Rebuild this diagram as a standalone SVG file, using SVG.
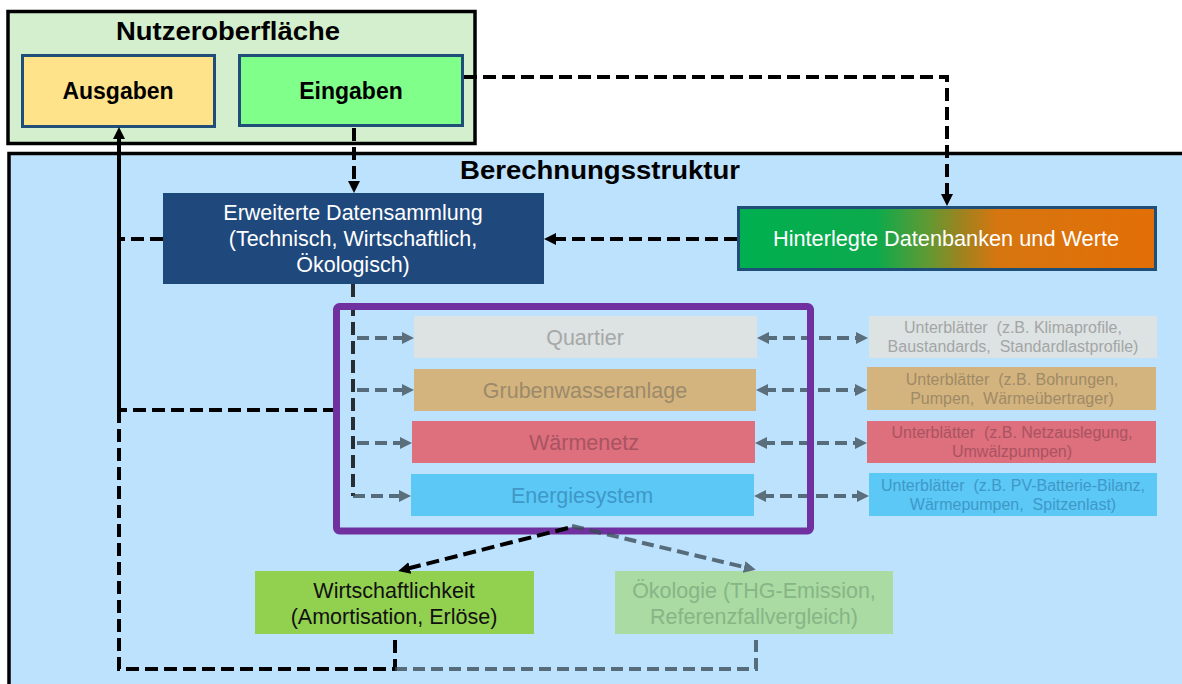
<svg xmlns="http://www.w3.org/2000/svg" width="1182" height="684" viewBox="0 0 1182 684">
  <defs>
    <linearGradient id="dbGrad" x1="0" y1="0" x2="1" y2="0">
      <stop offset="0" stop-color="#00b050"/>
      <stop offset="0.33" stop-color="#0caa4c"/>
      <stop offset="0.45" stop-color="#5e9a34"/>
      <stop offset="0.53" stop-color="#9a8420"/>
      <stop offset="0.62" stop-color="#d67610"/>
      <stop offset="1" stop-color="#e36e06"/>
    </linearGradient>
    <marker id="arrBlack" viewBox="0 0 12 12" refX="4" refY="6" markerWidth="12" markerHeight="12" markerUnits="userSpaceOnUse" orient="auto-start-reverse">
      <path d="M0,0 L12,6 L0,12 z" fill="#000"/>
    </marker>
    <marker id="arrGrey" viewBox="0 0 12 12" refX="4" refY="6" markerWidth="12" markerHeight="12" markerUnits="userSpaceOnUse" orient="auto-start-reverse">
      <path d="M0,0 L12,6 L0,12 z" fill="#5b6e7c"/>
    </marker>
  </defs>
  <style>
    text { font-family: "Liberation Sans", Arial, sans-serif; text-anchor: middle; white-space: pre; }
    .title { font-size: 26px; font-weight: bold; fill: #000; }
    .btn { font-size: 23px; font-weight: bold; fill: #000; }
    .lbl { font-size: 21.5px; }
    .sub { font-size: 16px; }
    .frame { stroke: #000; stroke-width: 3.5; }
    .blue-border { stroke: #1f4e79; stroke-width: 3; }
    .dk { fill: none; stroke: #000; stroke-width: 4; stroke-dasharray: 13 6; }
    .gr { fill: none; stroke: #3a4a55; stroke-opacity: 0.78; stroke-width: 4; stroke-dasharray: 12 6; }
    .solid { fill: none; stroke: #000; stroke-width: 4; }
  </style>

  <!-- white page -->
  <rect x="0" y="0" width="1182" height="684" fill="#fff"/>

  <!-- user interface frame -->
  <g id="nutzeroberflaeche">
    <rect x="8" y="11.5" width="467" height="132" fill="#d4efce" class="frame"/>
    <text x="228" y="40" class="title" textLength="224" lengthAdjust="spacingAndGlyphs">Nutzeroberfläche</text>
  </g>
  <g id="ausgaben">
    <rect x="22.5" y="55.5" width="192" height="71" fill="#ffe38a" class="blue-border"/>
    <text x="118" y="99" class="btn">Ausgaben</text>
  </g>
  <g id="eingaben">
    <rect x="239.5" y="55.5" width="223" height="70" fill="#80ff8b" class="blue-border"/>
    <text x="351" y="99" class="btn">Eingaben</text>
  </g>

  <!-- calculation structure frame -->
  <g id="berechnungsstruktur">
    <rect x="9" y="153.5" width="1200" height="600" fill="#bce2fd" class="frame"/>
    <text x="600" y="179" class="title" textLength="280" lengthAdjust="spacingAndGlyphs">Berechnungsstruktur</text>
  </g>

  <g id="datensammlung">
    <rect x="164" y="194" width="379" height="89" fill="#1f487c" stroke="#1c4a78" stroke-width="2"/>
    <text x="353" y="220" class="lbl" fill="#fff">Erweiterte Datensammlung</text>
    <text x="353" y="246" class="lbl" fill="#fff">(Technisch, Wirtschaftlich,</text>
    <text x="353" y="272" class="lbl" fill="#fff">Ökologisch)</text>
  </g>

  <g id="datenbanken">
    <rect x="738.5" y="207.5" width="417" height="62" fill="url(#dbGrad)" class="blue-border"/>
    <text x="946" y="246" class="lbl" fill="#fff" textLength="346" lengthAdjust="spacingAndGlyphs">Hinterlegte Datenbanken und Werte</text>
  </g>

  <!-- model sheets -->
  <g id="quartier">
    <rect x="414" y="316" width="343" height="42" fill="#dde2e2"/>
    <text x="585" y="345" class="lbl" fill="#a6a8a8">Quartier</text>
  </g>
  <g id="grubenwasseranlage">
    <rect x="414" y="369" width="342" height="42" fill="#d4b47e"/>
    <text x="585" y="398" class="lbl" fill="#9c8a6a">Grubenwasseranlage</text>
  </g>
  <g id="waermenetz">
    <rect x="412" y="421" width="343" height="42" fill="#de6f7c"/>
    <text x="584" y="450" class="lbl" fill="#a85462">Wärmenetz</text>
  </g>
  <g id="energiesystem">
    <rect x="411" y="474" width="343" height="42" fill="#5bc8f5"/>
    <text x="582" y="503" class="lbl" fill="#3f98c8">Energiesystem</text>
  </g>

  <!-- sub sheets -->
  <g id="unterblaetter-quartier">
    <rect x="869" y="316" width="288" height="42" fill="#dde2e2"/>
    <text x="1013" y="333" class="sub" fill="#a3a6a6">Unterblätter  (z.B. Klimaprofile,</text>
    <text x="1013" y="352" class="sub" fill="#a3a6a6">Baustandards,  Standardlastprofile)</text>
  </g>
  <g id="unterblaetter-grubenwasser">
    <rect x="867" y="367" width="289" height="43" fill="#d4b47e"/>
    <text x="1012" y="385" class="sub" fill="#9e8a68">Unterblätter  (z.B. Bohrungen,</text>
    <text x="1012" y="404" class="sub" fill="#9e8a68">Pumpen,  Wärmeübertrager)</text>
  </g>
  <g id="unterblaetter-waermenetz">
    <rect x="867" y="421" width="289" height="42" fill="#de6f7c"/>
    <text x="1012" y="438" class="sub" fill="#a85462">Unterblätter  (z.B. Netzauslegung,</text>
    <text x="1012" y="457" class="sub" fill="#a85462">Umwälzpumpen)</text>
  </g>
  <g id="unterblaetter-energie">
    <rect x="869" y="473" width="288" height="43" fill="#5bc8f5"/>
    <text x="1013" y="491" class="sub" fill="#3f98c8">Unterblätter  (z.B. PV-Batterie-Bilanz,</text>
    <text x="1013" y="510" class="sub" fill="#3f98c8">Wärmepumpen,  Spitzenlast)</text>
  </g>

  <!-- results -->
  <g id="wirtschaftlichkeit">
    <rect x="255" y="571" width="279" height="63" fill="#92d050"/>
    <text x="394" y="598" class="lbl" fill="#111">Wirtschaftlichkeit</text>
    <text x="394" y="624" class="lbl" fill="#111">(Amortisation, Erlöse)</text>
  </g>
  <g id="oekologie">
    <rect x="615" y="571" width="278" height="63" fill="#a9dba3"/>
    <text x="754" y="598" class="lbl" fill="#88b586">Ökologie (THG-Emission,</text>
    <text x="754" y="624" class="lbl" fill="#88b586">Referenzfallvergleich)</text>
  </g>

  <!-- connectors -->
  <g id="connectors">
    <!-- inputs to calculation -->
    <path d="M464,77 H947 V198" class="dk" marker-end="url(#arrBlack)"/>
    <path d="M354,128 V185" class="dk" marker-end="url(#arrBlack)"/>
    <path d="M737,239 H552" class="dk" marker-end="url(#arrBlack)"/>

    <!-- feedback to outputs -->
    <path d="M163,239 H119" class="dk"/>
    <path d="M336,410 H119" class="dk"/>
    <path d="M119,410 V669 H395 V634" class="dk"/>
    <path d="M395,669 H756 V634" class="gr"/>

    <!-- data collection into model sheets -->
    <path d="M353,284 V496" fill="none" stroke="#000" stroke-opacity="0.8" stroke-width="4" stroke-dasharray="13 6"/>
    <path d="M357,338 H406" class="gr" marker-end="url(#arrGrey)"/>
    <path d="M357,390 H406" class="gr" marker-end="url(#arrGrey)"/>
    <path d="M357,443 H404" class="gr" marker-end="url(#arrGrey)"/>
    <path d="M353,496 H403" class="gr" marker-end="url(#arrGrey)"/>

    <!-- model sheets to sub sheets -->
    <path d="M765,338 H860" class="gr" marker-start="url(#arrGrey)" marker-end="url(#arrGrey)"/>
    <path d="M764,390 H859" class="gr" marker-start="url(#arrGrey)" marker-end="url(#arrGrey)"/>
    <path d="M763,443 H859" class="gr" marker-start="url(#arrGrey)" marker-end="url(#arrGrey)"/>
    <path d="M762,496 H861" class="gr" marker-start="url(#arrGrey)" marker-end="url(#arrGrey)"/>
  </g>

  <!-- model frame -->
  <g id="modell">
    <rect x="336.5" y="306.5" width="474" height="224.5" rx="3" fill="none" stroke="#7030a0" stroke-width="7"/>
  </g>

  <g id="connectors-results">
    <path d="M568,528 L406,569" class="dk" marker-end="url(#arrBlack)"/>
    <path d="M572,526 L748,568" class="gr" marker-end="url(#arrGrey)"/>
  </g>

  <!-- output return line -->
  <g id="connector-ausgaben">
    <path d="M119,410 V135" class="solid" marker-end="url(#arrBlack)"/>
  </g>
</svg>
